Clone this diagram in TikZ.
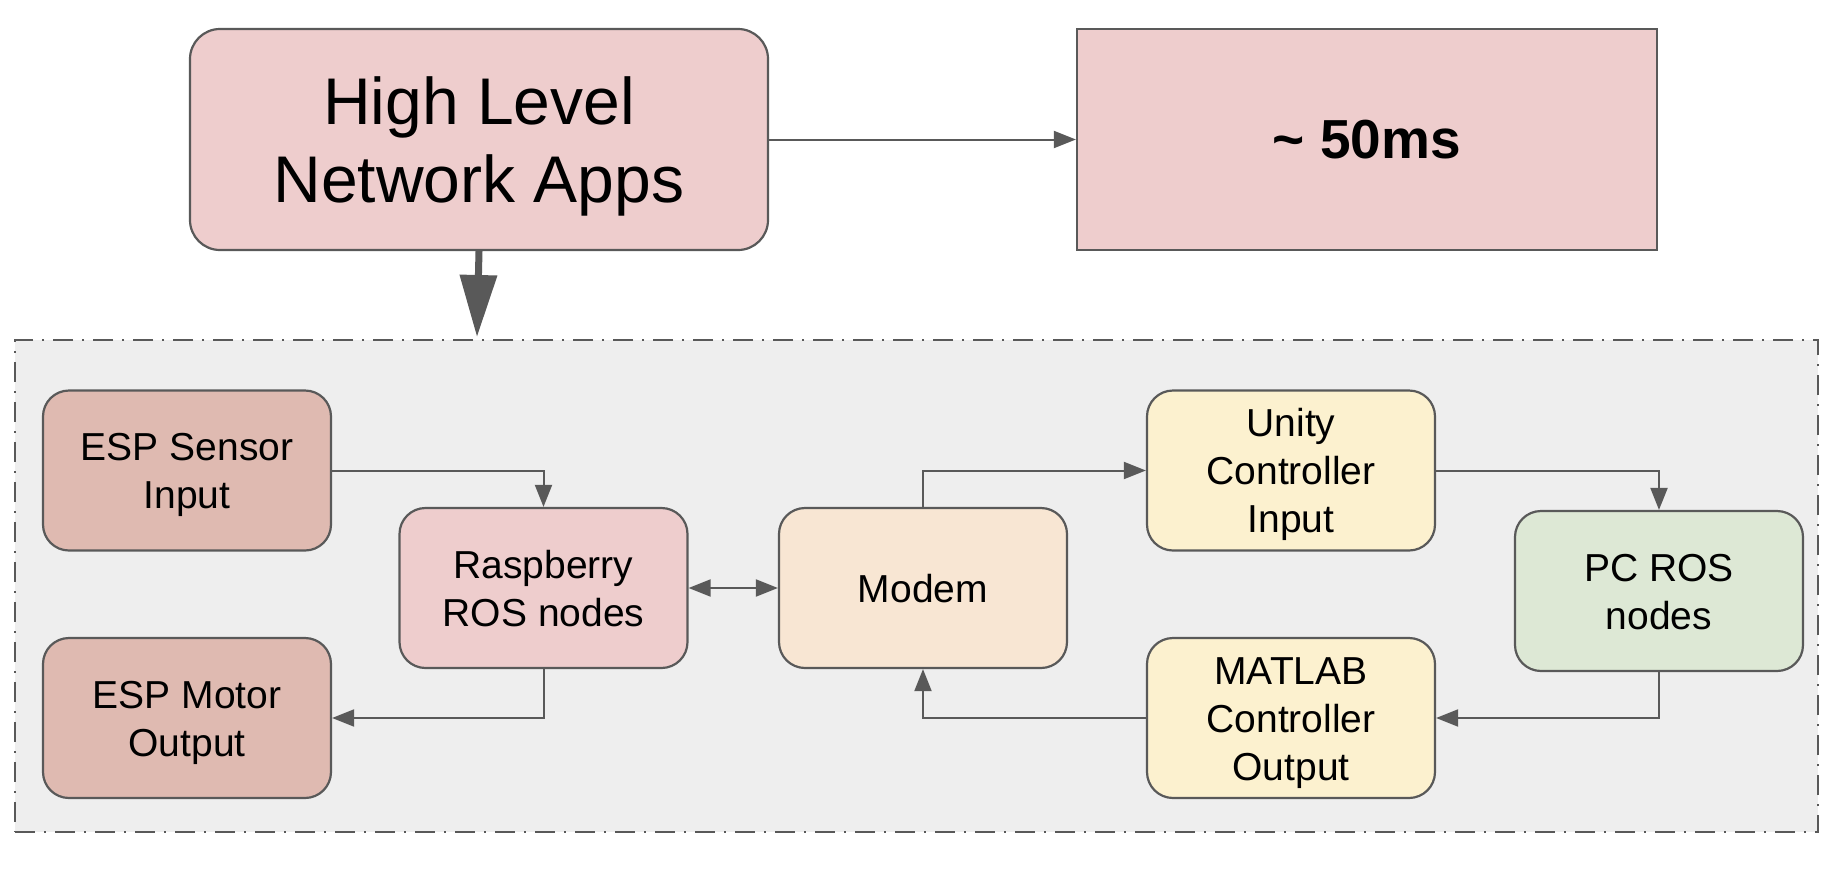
\documentclass[tikz,border=0pt]{standalone}
\usepackage{fontspec}
\setmainfont{Liberation Sans}
\usetikzlibrary{arrows.meta}
\definecolor{edge}{HTML}{595959}
\definecolor{pinkf}{HTML}{EECDCD}
\definecolor{espf}{HTML}{DFBAB1}
\definecolor{modemf}{HTML}{F8E6D3}
\definecolor{yellowf}{HTML}{FCF1CF}
\definecolor{greenf}{HTML}{DDE8D5}
\definecolor{groupf}{HTML}{EEEEEE}
\newcommand{\mylbl}[2]{\raisebox{-#1}[\height][\depth]{\begin{tabular}{@{}c@{}}#2\end{tabular}}}
\tikzset{
  box/.style={draw=edge, line width=2.2pt, rounded corners=26pt, align=center, inner sep=0pt,
    minimum width=288pt, minimum height=160pt, font=\fontsize{39}{48}\selectfont},
  bigbox/.style={draw=edge, line width=2.2pt, align=center, inner sep=0pt,
    minimum width=578pt, minimum height=221pt},
  conn/.style={draw=edge, line width=2pt, -{Triangle[length=22pt,width=17pt]}},
  biconn/.style={draw=edge, line width=2pt, {Triangle[length=22pt,width=17pt]}-{Triangle[length=22pt,width=17pt]}},
  thickconn/.style={draw=edge, line width=7pt, -{Triangle[length=62pt,width=36pt]}},
  groupbox/.style={draw=edge, fill=groupf, line width=2.5pt, inner sep=0pt,
    dash pattern=on 20pt off 9pt on 2pt off 9pt}
}
\begin{document}
\begin{tikzpicture}[x=1pt,y=-1pt]
\useasboundingbox (0,0) rectangle (1832,871);
\fill[white] (0,0) rectangle (1832,871);
\node[groupbox, minimum width=1803pt, minimum height=492pt] (grp) at (916.5,586) {};
\node[bigbox, fill=pinkf, rounded corners=30pt, font=\fontsize{66}{78}\selectfont] (hl) at (479,139.5) {\mylbl{8pt}{High Level\\Network Apps}};
\node[bigbox, fill=pinkf, minimum width=580pt, font=\fontsize{55}{66}\selectfont\bfseries] (lat) at (1367,139.5) {\textasciitilde{} 50ms};
\coordinate (gtop) at (477,337);
\node[box, fill=espf] (esps) at (187,470.5) {\mylbl{4.4pt}{ESP Sensor\\Input}};
\node[box, fill=espf] (espm) at (187,718) {\mylbl{4.4pt}{ESP Motor\\Output}};
\node[box, fill=pinkf] (rasp) at (543.5,588) {\mylbl{4.4pt}{Raspberry\\ROS nodes}};
\node[box, fill=modemf] (modem) at (923,588) {\mylbl{4.4pt}{Modem}};
\node[box, fill=yellowf] (unity) at (1291,470.5) {\mylbl{4.4pt}{Unity\\Controller\\Input}};
\node[box, fill=yellowf] (matlab) at (1291,718) {\mylbl{4.4pt}{MATLAB\\Controller\\Output}};
\node[box, fill=greenf] (pc) at (1659,591) {\mylbl{4.4pt}{PC ROS\\nodes}};
\draw[conn] (hl.east) -- (lat.west);
\draw[thickconn] (hl.south) -- (gtop);
\draw[conn] (esps.east) -| (rasp.north);
\draw[conn] (rasp.south) |- (espm.east);
\draw[biconn] (rasp.east) -- (modem.west);
\draw[conn] (modem.north) |- (unity.west);
\draw[conn] (unity.east) -| (pc.north);
\draw[conn] (pc.south) |- (matlab.east);
\draw[conn] (matlab.west) -| (modem.south);
\end{tikzpicture}
\end{document}
